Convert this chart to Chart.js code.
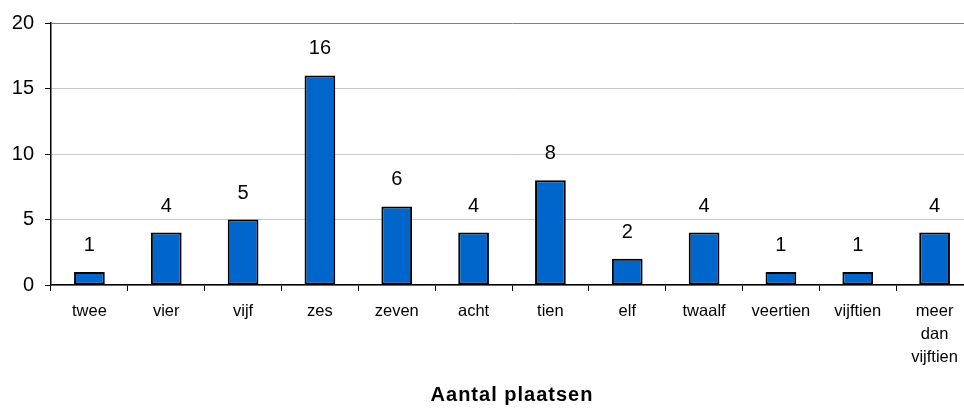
<!DOCTYPE html>
<html>
<head>
<meta charset="utf-8">
<script src="https://cdn.jsdelivr.net/npm/chart.js@4/dist/chart.umd.min.js"></script>
<style>
html,body{margin:0;padding:0;background:#fff;overflow:hidden;}
#wrap{width:976px;height:408px;}
</style>
</head>
<body>
<div id="wrap"><canvas id="c" width="976" height="408"></canvas></div>
<script>
const categories = ['twee','vier','vijf','zes','zeven','acht','tien','elf','twaalf','veertien','vijftien',['meer','dan','vijftien']];
const values = [1,4,5,16,6,4,8,2,4,1,1,4];
const yTicks = [0,5,10,15,20];
const axisTitle = 'Aantal plaatsen';

const FONT = "'Liberation Sans', Arial, sans-serif";

const labelPlugin = {
  id: 'valueLabels',
  beforeDraw(chart) {
    const sx = chart.scales.x;
    if (!sx._lsPatched) {
      const orig = sx.drawTitle.bind(sx);
      sx.drawTitle = function() {
        const ctx = chart.ctx;
        ctx.save();
        ctx.letterSpacing = '1px';
        orig();
        ctx.restore();
      };
      sx._lsPatched = true;
    }
  },
  afterDatasetsDraw(chart) {
    const ctx = chart.ctx;
    const meta = chart.getDatasetMeta(0);
    ctx.save();
    ctx.fillStyle = '#000';
    ctx.font = '20px ' + FONT;
    ctx.textAlign = 'center';
    ctx.textBaseline = 'alphabetic';
    meta.data.forEach((bar, i) => {
      ctx.fillText(String(values[i]), bar.x, bar.y - 21);
    });
    ctx.restore();
  }
};

new Chart(document.getElementById('c'), {
  type: 'bar',
  data: {
    labels: categories,
    datasets: [{
      data: values,
      backgroundColor: '#0066CC',
      borderColor: '#000',
      borderWidth: 2,
      borderSkipped: false,
      categoryPercentage: 1,
      barPercentage: 0.4
    }]
  },
  options: {
    responsive: false,
    animation: false,
    layout: { padding: { top: 23, right: 3, bottom: 0, left: 0 } },
    plugins: { legend: { display: false }, tooltip: { enabled: false } },
    scales: {
      y: {
        min: 0, max: 20,
        afterBuildTicks(s) { s.ticks = yTicks.map(v => ({ value: v })); },
        afterFit(s) { s.width = 51; },
        ticks: { color: '#000', font: { family: FONT, size: 20 }, padding: 11 },
        grid: {
          color: ctx => (ctx.tick && ctx.tick.value === 20) ? '#808080' : '#c8c8c8',
          lineWidth: 1,
          tickColor: '#000',
          tickLength: 6
        },
        border: { color: '#000', width: 1.5 }
      },
      x: {
        afterFit(s) { s.height = 408 - 285; },
        ticks: { color: '#000', font: { family: FONT, size: 16.5, lineHeight: 1.4 }, padding: 9, maxRotation: 0, autoSkip: false },
        grid: { drawOnChartArea: false, drawTicks: true, tickLength: 6, tickColor: '#000', offset: true },
        border: { color: '#000', width: 1.5 },
        title: {
          display: true,
          text: axisTitle,
          color: '#000',
          font: { family: FONT, size: 20, weight: 'bold', lineHeight: 1.2 },
          padding: { top: 0, bottom: 1 }
        }
      }
    }
  },
  plugins: [labelPlugin]
});
</script>
</body>
</html>
